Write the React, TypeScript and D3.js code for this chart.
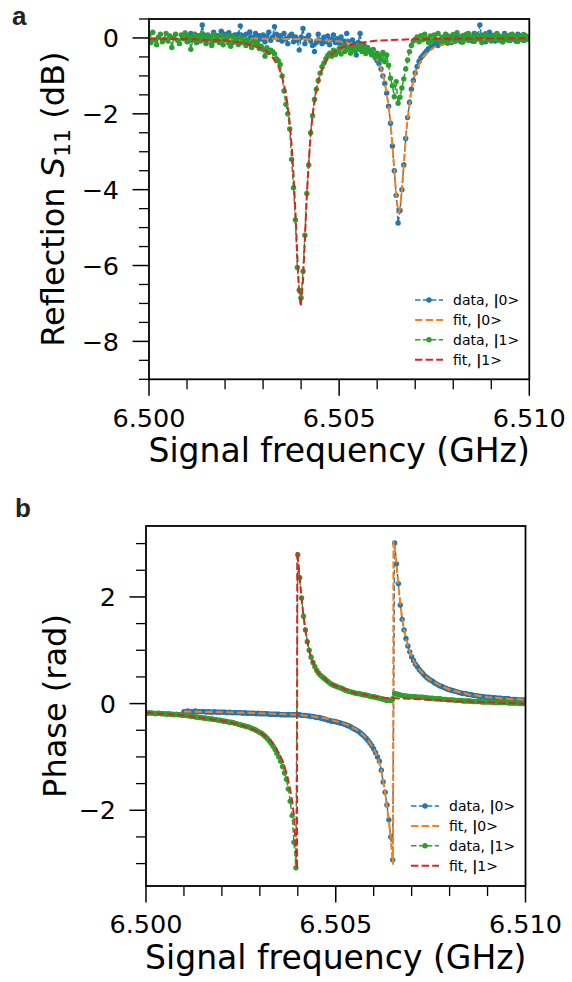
import React from "react";
import * as d3 from "d3";

// frequency sweep (GHz): |1> starts at 6.500, |0> starts at 6.501
const sweepStart = 6.5;
const sweepStep = 0.00005;
const startIdx1 = 0;
const startIdx0 = 20;

const xMajor = [6.5, 6.505, 6.51];
const xMinor = [6.501, 6.502, 6.503, 6.504, 6.506, 6.507, 6.508, 6.509];
const xLabels = ["6.500", "6.505", "6.510"];

const s11Major = [-8, -6, -4, -2, 0];
const s11Minor = [-9, -8.5, -7.5, -7, -6.5, -5.5, -5, -4.5, -3.5, -3, -2.5, -1.5, -1, -0.5, 0.5];
const phaseMajor = [-2, 0, 2];
const phaseMinor = [-3, -2.5, -1.5, -1, -0.5, 0.5, 1, 1.5, 2.5, 3];

// reflection (dB), |0> data
const s11Data0 = [
  0.05, -0.08, 0.12, -0.02, 0.10, -0.12, 0.06, 0.00, 0.34, 0.08,
  -0.10, 0.08, 0.02, -0.15, 0.15, -0.04, 0.06, -0.08, 0.18, -0.02,
  0.10, -0.05, 0.14, 0.04, -0.12, 0.08, -0.03, 0.10, 0.32, 0.05,
  -0.02, 0.10, -0.10, 0.16, 0.02, -0.05, 0.12, -0.14, 0.06, -0.03,
  0.08, -0.10, 0.04, 0.15, -0.06, 0.02, 0.30, 0.10, -0.04, 0.06,
  -0.08, 0.12, -0.02, -0.15, 0.05, 0.10, -0.10, 0.03, -0.06, -0.32,
  0.02, 0.25, -0.15, 0.00, 0.07, -0.08, -0.20, -0.36, -0.12, 0.10,
  -0.06, -0.15, 0.02, -0.10, 0.05, -0.18, -0.04, 0.08, -0.12, -0.02,
  -0.14, 0.03, -0.08, -0.20, 0.12, -0.10, -0.25, -0.05, -0.15, -0.45,
  -0.12, 0.12, -0.25, -0.18, -0.30, -0.35, -0.32, -0.42, -0.45, -0.52,
  -0.60, -0.68, -0.82, -1.00, -1.20, -1.45, -1.80, -2.25, -2.85, -3.50,
  -4.15, -4.88, -4.55, -4.00, -3.35, -2.65, -2.10, -1.70, -1.35, -1.12,
  -0.92, -0.75, -0.62, -0.52, -0.46, -0.40, -0.34, -0.28, -0.25, -0.22,
  -0.18, -0.12, -0.20, -0.08, -0.14, -0.03, -0.10, 0.05, -0.06, -0.12,
  0.02, -0.08, 0.08, -0.04, -0.10, 0.06, -0.02, 0.10, -0.06, 0.03,
  -0.08, 0.12, -0.03, 0.05, 0.34, -0.05, 0.08, -0.10, 0.02, 0.15,
  -0.04, 0.06, -0.08, 0.10, -0.02, 0.04, -0.10, 0.12, 0.00, -0.06,
  0.08, -0.03, 0.05, -0.08, 0.10, -0.02, 0.04, -0.07, 0.06, -0.03,
  0.02,
];

// reflection (dB), |1> data
const s11Data1 = [
  0.08, -0.12, 0.15, -0.05, -0.18, 0.02, 0.10, -0.10, -0.03, 0.12,
  -0.08, 0.05, -0.25, 0.00, 0.10, -0.06, -0.15, 0.08, -0.02, 0.13,
  -0.10, 0.04, -0.30, -0.05, 0.09, -0.12, 0.03, -0.08, 0.12, -0.04,
  -0.15, 0.06, -0.02, -0.20, 0.10, -0.07, 0.02, -0.12, 0.07, -0.18,
  -0.05, 0.04, -0.14, -0.22, 0.05, -0.10, -0.03, -0.17, 0.02, -0.12,
  -0.08, -0.20, -0.05, -0.15, -0.25, -0.10, -0.18, -0.12, -0.28, -0.22,
  -0.30, -0.48, -0.26, -0.38, -0.32, -0.36, -0.42, -0.55, -0.60, -0.70,
  -1.00, -1.40, -1.75, -2.00, -2.40, -3.20, -3.95, -4.80, -6.05, -6.65,
  -6.85, -6.15, -5.20, -4.10, -3.35, -2.50, -2.05, -1.62, -1.35, -1.12,
  -0.93, -0.76, -0.66, -0.55, -0.46, -0.40, -0.48, -0.32, -0.44, -0.36,
  -0.28, -0.42, -0.22, -0.36, -0.30, -0.26, -0.40, -0.20, -0.33, -0.25,
  -0.30, -0.18, -0.36, -0.27, -0.41, -0.25, -0.35, -0.44, -0.30, -0.49,
  -0.40, -0.46, -0.56, -0.38, -0.63, -0.45, -0.72, -1.06, -1.26, -1.55,
  -1.15, -1.72, -1.56, -1.32, -1.08, -0.82, -0.58, -0.36, -0.20, -0.08,
  -0.04, 0.03, -0.10, 0.06, -0.05, 0.10, -0.02, -0.12, 0.05, -0.08,
  0.08, -0.03, 0.12, -0.10, 0.02, -0.06, 0.10, -0.14, 0.04, -0.02,
  0.09, -0.08, 0.14, -0.04, 0.03, -0.11, 0.07, -0.02, 0.12, -0.06,
  0.02, -0.09, 0.10, -0.03, 0.06, -0.12, 0.04, 0.11, -0.05, 0.01,
  -0.08, 0.07, -0.02, 0.12, -0.06, 0.03, -0.10, 0.08, -0.04, 0.05,
  -0.07, 0.10, -0.02, 0.04, -0.09, 0.06, -0.03, 0.09, -0.05, 0.02,
  -0.04,
];

// fits of reflection, [GHz, dB]
const s11Fit0 = [
  [6.501, -0.01], [6.503, -0.02], [6.504, -0.03], [6.5045, -0.05], [6.505, -0.09],
  [6.5055, -0.18], [6.5058, -0.34], [6.506, -0.58], [6.5061, -0.8], [6.5062, -1.17],
  [6.5063, -1.78], [6.50635, -2.23], [6.5064, -2.8], [6.50645, -3.48], [6.5065, -4.14],
  [6.50655, -4.56], [6.50657, -4.6], [6.5066, -4.51], [6.50665, -4.0], [6.5067, -3.33],
  [6.50675, -2.67], [6.5068, -2.13], [6.5069, -1.37], [6.507, -0.93], [6.5072, -0.49],
  [6.5075, -0.24], [6.508, -0.1], [6.509, -0.04], [6.51, -0.02],
];
const s11Fit1 = [
  [6.5, -0.02], [6.501, -0.03], [6.502, -0.07], [6.5025, -0.13], [6.503, -0.29],
  [6.5032, -0.44], [6.5034, -0.74], [6.5035, -1.02], [6.5036, -1.46], [6.5037, -2.23],
  [6.50375, -2.82], [6.5038, -3.6], [6.50385, -4.58], [6.5039, -5.75], [6.50395, -6.76],
  [6.50399, -7.08], [6.50405, -6.38], [6.5041, -5.29], [6.50415, -4.15], [6.5042, -3.26],
  [6.50425, -2.57], [6.5043, -2.04], [6.5044, -1.36], [6.5045, -0.95], [6.5047, -0.53],
  [6.505, -0.27], [6.5055, -0.13], [6.506, -0.07], [6.507, -0.03], [6.508, -0.02], [6.51, -0.01],
];

// phase (rad), |0> data
const phaseData0 = [
  -0.15, -0.15, -0.14, -0.15, -0.15, -0.15, -0.14, -0.15, -0.15, -0.15,
  -0.15, -0.15, -0.16, -0.15, -0.16, -0.16, -0.15, -0.16, -0.16, -0.16,
  -0.16, -0.16, -0.16, -0.17, -0.16, -0.17, -0.17, -0.17, -0.17, -0.17,
  -0.17, -0.18, -0.17, -0.18, -0.18, -0.18, -0.18, -0.18, -0.19, -0.18,
  -0.19, -0.19, -0.19, -0.19, -0.19, -0.20, -0.20, -0.20, -0.20, -0.20,
  -0.20, -0.21, -0.21, -0.21, -0.21, -0.21, -0.21, -0.21, -0.21, -0.21,
  -0.21, -0.21, -0.22, -0.22, -0.22, -0.23, -0.23, -0.24, -0.24, -0.25,
  -0.26, -0.26, -0.27, -0.28, -0.29, -0.30, -0.31, -0.32, -0.33, -0.33,
  -0.34, -0.35, -0.36, -0.37, -0.38, -0.39, -0.41, -0.42, -0.44, -0.46,
  -0.48, -0.50, -0.52, -0.55, -0.58, -0.61, -0.65, -0.69, -0.74, -0.79,
  -0.85, -0.92, -1.00, -1.08, -1.25, -1.47, -1.66, -1.90, -2.18, -2.50,
  -2.93, 3.01, 2.62, 2.25, 1.85, 1.58, 1.38, 1.22, 1.08, 0.97,
  0.88, 0.81, 0.74, 0.69, 0.64, 0.60, 0.56, 0.52, 0.49, 0.46,
  0.44, 0.42, 0.39, 0.37, 0.35, 0.33, 0.32, 0.30, 0.29, 0.27,
  0.26, 0.25, 0.24, 0.23, 0.22, 0.21, 0.20, 0.19, 0.19, 0.18,
  0.17, 0.17, 0.16, 0.15, 0.15, 0.14, 0.14, 0.13, 0.13, 0.12,
  0.12, 0.12, 0.11, 0.11, 0.11, 0.10, 0.10, 0.10, 0.09, 0.09,
  0.09, 0.09, 0.08, 0.08, 0.08, 0.08, 0.07, 0.07, 0.07, 0.07,
  0.07,
];

// phase (rad), |1> data
const phaseData1 = [
  -0.17, -0.18, -0.17, -0.18, -0.18, -0.19, -0.18, -0.18, -0.19, -0.19,
  -0.19, -0.20, -0.19, -0.20, -0.20, -0.21, -0.20, -0.21, -0.21, -0.22,
  -0.22, -0.22, -0.23, -0.23, -0.24, -0.24, -0.25, -0.25, -0.26, -0.26,
  -0.27, -0.27, -0.28, -0.28, -0.29, -0.29, -0.30, -0.30, -0.31, -0.31,
  -0.32, -0.33, -0.33, -0.34, -0.35, -0.35, -0.36, -0.37, -0.38, -0.39,
  -0.40, -0.41, -0.42, -0.43, -0.44, -0.45, -0.47, -0.48, -0.50, -0.52,
  -0.54, -0.56, -0.59, -0.62, -0.66, -0.70, -0.75, -0.80, -0.86, -0.93,
  -1.00, -1.08, -1.18, -1.30, -1.42, -1.60, -1.83, -2.10, -2.60, -3.08,
  2.79, 2.36, 1.98, 1.64, 1.38, 1.16, 1.00, 0.87, 0.77, 0.69,
  0.62, 0.57, 0.53, 0.50, 0.47, 0.44, 0.41, 0.38, 0.36, 0.34,
  0.33, 0.31, 0.30, 0.29, 0.27, 0.25, 0.24, 0.23, 0.22, 0.21,
  0.20, 0.19, 0.19, 0.18, 0.17, 0.16, 0.16, 0.15, 0.14, 0.13,
  0.13, 0.12, 0.11, 0.10, 0.09, 0.08, 0.07, 0.06, 0.06, 0.06,
  0.09, 0.19, 0.18, 0.17, 0.16, 0.15, 0.15, 0.14, 0.14, 0.13,
  0.13, 0.13, 0.13, 0.12, 0.12, 0.12, 0.12, 0.11, 0.11, 0.10,
  0.10, 0.10, 0.09, 0.09, 0.09, 0.09, 0.08, 0.08, 0.08, 0.07,
  0.07, 0.07, 0.07, 0.06, 0.06, 0.06, 0.06, 0.05, 0.05, 0.05,
  0.05, 0.05, 0.04, 0.04, 0.04, 0.04, 0.04, 0.03, 0.03, 0.03,
  0.03, 0.03, 0.03, 0.02, 0.02, 0.02, 0.02, 0.02, 0.02, 0.02,
  0.02, 0.01, 0.01, 0.01, 0.01, 0.01, 0.01, 0.00, 0.00, 0.00,
  0.00,
];

// fits of phase, [GHz, rad]
const phaseFit0 = [
  [6.501, -0.15], [6.502, -0.16], [6.503, -0.18], [6.504, -0.21], [6.5045, -0.25],
  [6.5048, -0.29], [6.505, -0.33], [6.5052, -0.37], [6.5054, -0.43], [6.5056, -0.51],
  [6.5057, -0.57], [6.5058, -0.64], [6.5059, -0.74], [6.506, -0.85], [6.50605, -0.92],
  [6.5061, -1.01], [6.50615, -1.12], [6.5062, -1.26], [6.50625, -1.45], [6.5063, -1.67],
  [6.50635, -1.92], [6.5064, -2.2], [6.50645, -2.52], [6.50648, -2.78], [6.50651, -3.02],
  [6.50652, 3.05], [6.50655, 2.95], [6.5066, 2.6], [6.50665, 2.22], [6.5067, 1.87],
  [6.50675, 1.6], [6.5068, 1.39], [6.50685, 1.22], [6.5069, 1.08], [6.507, 0.88],
  [6.5071, 0.74], [6.5072, 0.64], [6.5073, 0.56], [6.5074, 0.49], [6.5075, 0.44],
  [6.5077, 0.36], [6.508, 0.26], [6.5085, 0.17], [6.509, 0.12], [6.5095, 0.09], [6.51, 0.07],
];
const phaseFit1 = [
  [6.5, -0.17], [6.501, -0.22], [6.502, -0.32], [6.5025, -0.4], [6.5028, -0.48],
  [6.503, -0.54], [6.5032, -0.64], [6.5033, -0.7], [6.5034, -0.8], [6.5035, -0.93],
  [6.50355, -1.0], [6.5036, -1.08], [6.50365, -1.18], [6.5037, -1.3], [6.50375, -1.45],
  [6.5038, -1.62], [6.50385, -1.83], [6.5039, -2.1], [6.50393, -2.5], [6.50398, -3.1],
  [6.503985, 2.85], [6.504, 2.75], [6.50405, 2.34], [6.5041, 1.97], [6.50415, 1.64],
  [6.5042, 1.38], [6.50425, 1.16], [6.5043, 1.0], [6.50435, 0.87], [6.5044, 0.77],
  [6.5045, 0.62], [6.5046, 0.53], [6.5047, 0.47], [6.5048, 0.41], [6.505, 0.33],
  [6.5052, 0.28], [6.5055, 0.2], [6.5058, 0.16], [6.506, 0.13], [6.5063, 0.11],
  [6.5066, 0.1], [6.507, 0.09], [6.5075, 0.07], [6.508, 0.05], [6.509, 0.025], [6.51, 0.0],
];

const BLUE = "#1f77b4";
const ORANGE = "#ff7f0e";
const GREEN = "#2ca02c";
const RED = "#d62728";
const FONT = "DejaVu Sans";

const toPoints = (vals, start) => vals.map((v, k) => [sweepStart + (start + k) * sweepStep, v]);

const fmtY = (v) => (v < 0 ? "\u2212" + Math.abs(v) : String(v));

function Ket({ pre, n }) {
  return (
    <>
      {pre}
      <tspan fontWeight="bold">|</tspan>
      {n}&gt;
    </>
  );
}

function Panel({ id, left, right, top, bottom, yDomain, yMajor, yMinor, series, ylabel, ylabelX, legendX, legendY }) {
  const x = d3.scaleLinear().domain([6.5, 6.51]).range([left, right]);
  const y = d3.scaleLinear().domain(yDomain).range([bottom, top]);
  const line = d3.line().x((d) => x(d[0])).y((d) => y(d[1]));
  const midX = (left + right) / 2;
  const midY = (top + bottom) / 2;

  return (
    <g>
      <defs>
        <clipPath id={id}>
          <rect x={left} y={top} width={right - left} height={bottom - top} />
        </clipPath>
      </defs>
      <g clipPath={`url(#${id})`}>
        {series.map((s, k) => (
          <g key={k}>
            <path
              d={line(s.pts)}
              fill="none"
              stroke={s.color}
              strokeWidth={s.marker ? 1.5 : 2}
              strokeDasharray={s.marker ? "5.5 2.4" : "7.4 3.2"}
            />
            {s.marker &&
              s.pts.map((d, j) => <circle key={j} cx={x(d[0])} cy={y(d[1])} r={2.7} fill={s.color} />)}
          </g>
        ))}
      </g>

      <rect x={left} y={top} width={right - left} height={bottom - top} fill="none" stroke="#000" strokeWidth={1.8} />

      {xMajor.map((t, k) => (
        <g key={"xM" + k}>
          <line x1={x(t)} x2={x(t)} y1={bottom} y2={bottom + 16.5} stroke="#000" strokeWidth={1.5} />
          <text x={x(t)} y={bottom + 47.4} fontSize={25.5} fontFamily={FONT} textAnchor="middle">
            {xLabels[k]}
          </text>
        </g>
      ))}
      {xMinor.map((t, k) => (
        <line key={"xm" + k} x1={x(t)} x2={x(t)} y1={bottom} y2={bottom + 10} stroke="#000" strokeWidth={1.3} />
      ))}
      {yMajor.map((t, k) => (
        <g key={"yM" + k}>
          <line x1={left - 16.5} x2={left} y1={y(t)} y2={y(t)} stroke="#000" strokeWidth={1.5} />
          <text x={left - 30} y={y(t)} dy="0.36em" fontSize={25.5} fontFamily={FONT} textAnchor="end">
            {fmtY(t)}
          </text>
        </g>
      ))}
      {yMinor.map((t, k) => (
        <line key={"ym" + k} x1={left - 10} x2={left} y1={y(t)} y2={y(t)} stroke="#000" strokeWidth={1.3} />
      ))}

      <text x={midX} y={bottom + 82.5} fontSize={33} fontFamily={FONT} textAnchor="middle">
        Signal frequency (GHz)
      </text>
      <text
        transform={`translate(${ylabelX},${midY}) rotate(-90)`}
        fontSize={32}
        fontFamily={FONT}
        textAnchor="middle"
      >
        {ylabel}
      </text>

      {series.map((s, k) => {
        const yy = legendY + k * 19.9;
        return (
          <g key={"lg" + k}>
            <line
              x1={legendX}
              x2={legendX + 28}
              y1={yy}
              y2={yy}
              stroke={s.color}
              strokeWidth={s.marker ? 1.5 : 2}
              strokeDasharray={s.marker ? "5.5 2.4" : "7.4 3.2"}
            />
            {s.marker && <circle cx={legendX + 14} cy={yy} r={2.7} fill={s.color} />}
            <text x={legendX + 38} y={yy} dy="0.36em" fontSize={14} fontFamily={FONT}>
              <Ket pre={s.marker ? "data, " : "fit, "} n={s.ket} />
            </text>
          </g>
        );
      })}
    </g>
  );
}

export default function App() {
  const seriesA = [
    { pts: toPoints(s11Data0, startIdx0), color: BLUE, marker: true, ket: 0 },
    { pts: s11Fit0, color: ORANGE, marker: false, ket: 0 },
    { pts: toPoints(s11Data1, startIdx1), color: GREEN, marker: true, ket: 1 },
    { pts: s11Fit1, color: RED, marker: false, ket: 1 },
  ];
  const seriesB = [
    { pts: toPoints(phaseData0, startIdx0), color: BLUE, marker: true, ket: 0 },
    { pts: phaseFit0, color: ORANGE, marker: false, ket: 0 },
    { pts: toPoints(phaseData1, startIdx1), color: GREEN, marker: true, ket: 1 },
    { pts: phaseFit1, color: RED, marker: false, ket: 1 },
  ];

  return (
    <svg
      width={572}
      height={982}
      style={{ position: "absolute", left: 0, top: 0, background: "#fff" }}
    >
      <rect width={572} height={982} fill="#fff" />
      <text x={12} y={25} fontSize={26} fontWeight="bold" fontFamily="Liberation Sans, Arial" fill="#222">
        a
      </text>
      <text x={15} y={517} fontSize={26} fontWeight="bold" fontFamily="Liberation Sans, Arial" fill="#222">
        b
      </text>
      <Panel
        id="clipA"
        left={149}
        right={529.3}
        top={19}
        bottom={379.3}
        yDomain={[-9, 0.5]}
        yMajor={s11Major}
        yMinor={s11Minor}
        series={seriesA}
        ylabelX={64}
        legendX={415}
        legendY={300}
        ylabel={
          <>
            Reflection <tspan fontStyle="italic">S</tspan>
            <tspan fontSize={22} dy={6}>11</tspan>
            <tspan dy={-6}> (dB)</tspan>
          </>
        }
      />
      <Panel
        id="clipB"
        left={146}
        right={525.5}
        top={526}
        bottom={886}
        yDomain={[-3.42, 3.33]}
        yMajor={phaseMajor}
        yMinor={phaseMinor}
        series={seriesB}
        ylabelX={66}
        legendX={411}
        legendY={806}
        ylabel="Phase (rad)"
      />
    </svg>
  );
}
